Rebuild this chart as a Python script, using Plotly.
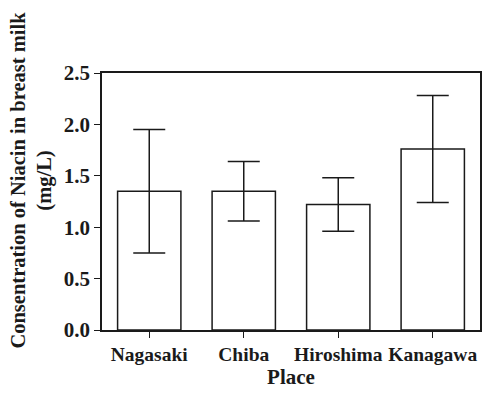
import plotly.graph_objects as go

places = ["Nagasaki", "Chiba", "Hiroshima", "Kanagawa"]
niacin_mean = [1.35, 1.35, 1.22, 1.76]
niacin_err = [0.60, 0.29, 0.26, 0.52]
y_ticks = [0.0, 0.5, 1.0, 1.5, 2.0, 2.5]
y_tick_labels = ["0.0", "0.5", "1.0", "1.5", "2.0", "2.5"]

ink = "#1a1a1a"
font_family = "Liberation Serif, Times New Roman, serif"

fig = go.Figure()
fig.add_trace(go.Bar(
    x=places,
    y=niacin_mean,
    marker=dict(color="white", line=dict(color=ink, width=1.5)),
    error_y=dict(type="data", array=niacin_err, visible=True,
                 color=ink, thickness=1.5, width=16),
    showlegend=False,
))

fig.update_layout(
    width=486, height=394,
    margin=dict(l=102, r=4, t=73, b=64),
    paper_bgcolor="white", plot_bgcolor="white",
    bargap=0.33,
    font=dict(family=font_family, color=ink, size=20),
    xaxis=dict(
        showline=True, linecolor=ink, linewidth=1.5, mirror=True,
        ticks="outside", ticklen=6, tickwidth=1.2, tickcolor=ink,
        tickfont=dict(family=font_family, size=19.5, color=ink, weight="bold"),
        showgrid=False, zeroline=False,
        range=[-0.5, 3.5],
        title=dict(text="<b>Place</b>", font=dict(family=font_family, size=21, color=ink), standoff=3),
    ),
    yaxis=dict(
        showline=True, linecolor=ink, linewidth=1.5, mirror=True,
        ticks="outside", ticklen=6, tickwidth=1.2, tickcolor=ink,
        tickvals=y_ticks, ticktext=y_tick_labels,
        tickfont=dict(family=font_family, size=21, color=ink, weight="bold"),
        showgrid=False, zeroline=False,
        range=[0, 2.5],
    ),
    annotations=[dict(
        text="<b>Consentration of Niacin in breast milk<br>(mg/L)</b>",
        xref="paper", yref="paper", x=-0.186, y=0.584,
        xanchor="center", yanchor="middle", textangle=-90, showarrow=False,
        font=dict(family=font_family, size=20.5, color=ink),
    )],
)

fig.write_html("out.html")
